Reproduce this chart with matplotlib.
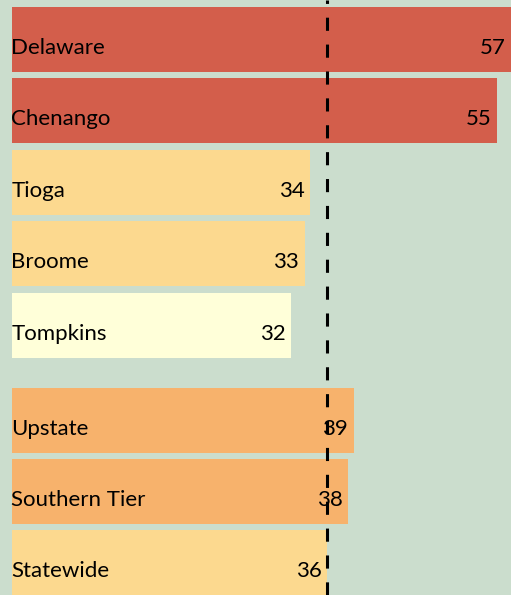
import matplotlib.pyplot as plt

# counties first, then the regional comparison group
counties = ["Delaware", "Chenango", "Tioga", "Broome", "Tompkins"]
county_vals = [57.0, 55.4, 34.0, 33.4, 31.9]
regions = ["Upstate", "Southern Tier", "Statewide"]
region_vals = [39.0, 38.4, 36.0]

county_colors = ["#d35e4b", "#d35e4b", "#fcd98f", "#fcd98f", "#ffffd9"]
region_colors = ["#f7b26c", "#f7b26c", "#fcd98f"]

bg = "#cbddcd"
gap = 0.33   # extra space between the two groups

names = counties + regions
vals = county_vals + region_vals
colors = county_colors + region_colors
ypos = list(range(len(counties))) + [len(counties) + gap + i for i in range(len(regions))]

fig = plt.figure(figsize=(5.11, 5.95), dpi=100, facecolor=bg)
ax = fig.add_axes([12 / 511, 0, 499 / 511, 1])
ax.set_facecolor(bg)

ax.barh(ypos, vals, height=0.91, color=colors, zorder=2)

for y, name, v in zip(ypos, names, vals):
    ax.annotate(name, (0, y), xytext=(-0.5, -10.4), textcoords="offset points",
                ha="left", va="baseline", fontsize=16, family="Lato", zorder=3)
    ax.annotate(f"{v:.0f}", (v, y), xytext=(-4, -10.4), textcoords="offset points",
                ha="right", va="baseline", fontsize=16, family="Lato", zorder=3,
                annotation_clip=False)

# statewide reference line
ax.axvline(region_vals[-1], color="black", lw=2.2, ls=(0, (4.3, 4.5)), zorder=4)

ax.set_xlim(0, 56.96)
ax.set_ylim(7.78, -0.553)
ax.axis("off")

fig.savefig("out.png", dpi=100, facecolor=bg)
